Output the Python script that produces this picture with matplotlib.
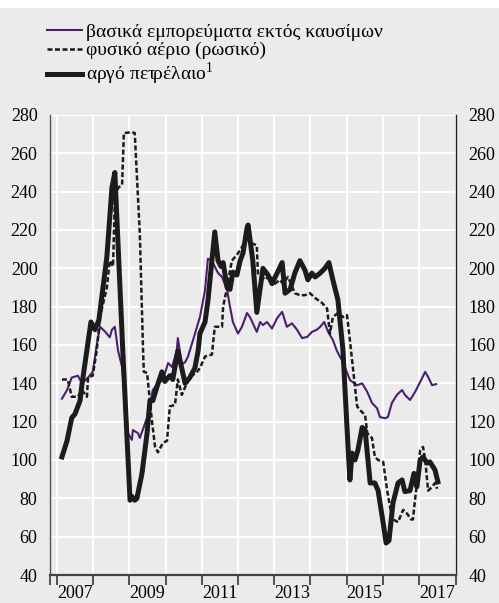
import matplotlib
matplotlib.use("Agg")
import matplotlib.pyplot as plt
from matplotlib.patches import Rectangle
from matplotlib.ticker import FixedLocator, NullFormatter

# non-fuel commodities (purple)
nonfuel_t = [2007.14, 2007.28, 2007.41, 2007.58, 2007.69, 2007.86, 2007.99, 2008.10, 2008.19,
             2008.33, 2008.46, 2008.52, 2008.60, 2008.69, 2008.80, 2008.96, 2009.07, 2009.10,
             2009.24, 2009.29, 2009.49, 2009.65, 2009.79, 2009.93, 2010.07, 2010.18, 2010.31,
             2010.34, 2010.45, 2010.54, 2010.62, 2010.76, 2010.95, 2011.09, 2011.17, 2011.28,
             2011.45, 2011.56, 2011.70, 2011.78, 2011.86, 2012.00, 2012.11, 2012.25, 2012.33,
             2012.52, 2012.61, 2012.69, 2012.80, 2012.94, 2013.08, 2013.22, 2013.35, 2013.49,
             2013.63, 2013.77, 2013.91, 2014.04, 2014.18, 2014.27, 2014.38, 2014.49, 2014.62,
             2014.73, 2014.90, 2015.09, 2015.29, 2015.43, 2015.57, 2015.70, 2015.84, 2015.92,
             2016.06, 2016.14, 2016.25, 2016.39, 2016.53, 2016.61, 2016.75, 2016.89, 2017.03,
             2017.17, 2017.25, 2017.36, 2017.47]
nonfuel_v = [132, 136.5, 143, 144, 140, 143, 146, 160, 169.5,
             167, 164, 168, 169.5, 157, 148.5, 114, 110.5, 115.6,
             114, 111.5, 122, 136.5, 140, 141.7, 150.6, 148.5, 157,
             163.6, 150, 151, 154, 162.6, 174.6, 188.7, 205, 204,
             197.5, 195.5, 188.7, 180, 172, 166, 169.5, 176.7, 174.6,
             166.8, 172, 170.4, 172, 168.6, 174, 177.3, 169.5, 171.3,
             168, 163.6, 164.2, 166.8, 168, 169.5, 172, 166.8, 162.6,
             157, 151, 141.7, 139, 140, 135.5, 129.8, 127, 122.4,
             121.8, 122.4, 129.8, 134, 136.5, 134, 131.3, 135.5, 140.7,
             146, 143.3, 139, 139.6]

# natural gas, Russian (dashed)
gas_t = [2007.14, 2007.30, 2007.41, 2007.58, 2007.69, 2007.83, 2007.86, 2007.99, 2008.10,
         2008.19, 2008.38, 2008.46, 2008.55, 2008.60, 2008.69, 2008.80, 2008.85, 2009.07,
         2009.15, 2009.29, 2009.38, 2009.40, 2009.49, 2009.62, 2009.71, 2009.79, 2009.93,
         2010.04, 2010.12, 2010.26, 2010.34, 2010.45, 2010.54, 2010.67, 2010.87, 2010.95,
         2011.09, 2011.28, 2011.36, 2011.56, 2011.59, 2011.70, 2011.83, 2011.97, 2012.11,
         2012.25, 2012.39, 2012.52, 2012.55, 2012.75, 2012.88, 2013.02, 2013.16, 2013.24,
         2013.38, 2013.44, 2013.57, 2013.71, 2013.85, 2013.99, 2014.13, 2014.32, 2014.46,
         2014.54, 2014.62, 2014.76, 2014.90, 2015.01, 2015.09, 2015.29, 2015.37, 2015.51,
         2015.57, 2015.70, 2015.78, 2015.87, 2016.01, 2016.12, 2016.20, 2016.28, 2016.42,
         2016.56, 2016.67, 2016.78, 2016.83, 2016.94, 2017.03, 2017.11, 2017.17, 2017.25,
         2017.36, 2017.44, 2017.50]
gas_v = [142, 142, 133, 133, 136.5, 133, 143, 144, 157,
         174.6, 190, 204, 201, 235.6, 242, 243.5, 270.6, 271,
         270.6, 218, 157, 146, 145.5, 121, 107, 104, 109,
         110, 128, 128.7, 142, 134, 138, 143, 146, 148,
         154, 155, 169.5, 169.5, 180, 190, 204, 207, 211,
         217, 213, 212, 197.5, 194, 196.5, 192, 194, 192,
         195.5, 193, 187, 186, 186, 187, 184.5, 182, 179,
         166, 174.6, 176.7, 174.6, 175.6, 162.6, 128, 126, 123.5,
         114, 111.5, 101.6, 100, 99, 84, 75.5, 69, 67.6,
         74, 72, 69, 69, 88, 105, 106.8, 100, 84,
         86, 88, 85]

# crude oil (thick black)
oil_t = [2007.14, 2007.28, 2007.41, 2007.50, 2007.64, 2007.69, 2007.94, 2008.05, 2008.16,
         2008.38, 2008.52, 2008.60, 2008.82, 2008.93, 2009.02, 2009.07, 2009.15, 2009.21,
         2009.35, 2009.49, 2009.57, 2009.65, 2009.76, 2009.90, 2009.98, 2010.12, 2010.20,
         2010.34, 2010.54, 2010.67, 2010.81, 2010.90, 2010.95, 2011.09, 2011.17, 2011.28,
         2011.36, 2011.45, 2011.53, 2011.59, 2011.70, 2011.78, 2011.86, 2011.97, 2012.06,
         2012.14, 2012.25, 2012.28, 2012.41, 2012.52, 2012.69, 2012.83, 2012.94, 2013.08,
         2013.22, 2013.30, 2013.44, 2013.57, 2013.71, 2013.85, 2013.93, 2014.04, 2014.13,
         2014.27, 2014.40, 2014.51, 2014.62, 2014.76, 2014.90, 2015.01, 2015.09, 2015.15,
         2015.23, 2015.31, 2015.43, 2015.51, 2015.65, 2015.78, 2015.87, 2016.01, 2016.09,
         2016.17, 2016.28, 2016.42, 2016.53, 2016.61, 2016.75, 2016.86, 2016.94, 2017.03,
         2017.11, 2017.22, 2017.30, 2017.44, 2017.52]
oil_v = [101.6, 110, 122, 124, 131, 139, 172, 168, 173,
         206, 242, 250, 157, 114, 79, 81, 79, 80,
         93, 114, 131, 131, 138, 146, 141, 144, 142,
         157, 140, 143, 148, 157, 166, 172, 183, 204,
         219, 204, 201, 203, 190, 189, 198, 196.5, 204,
         208, 221, 222.6, 204, 177, 200, 196.5, 192, 197.5,
         203, 187, 189, 197.5, 204, 199, 194, 197.5, 195.5,
         197.5, 200, 203, 194, 183.5, 157, 117, 89.6, 103.6,
         100, 105, 117, 115.6, 88, 88, 84, 67, 56.7,
         58, 77.6, 88, 89.6, 83.5, 84, 93, 86, 100,
         101.6, 98.4, 99, 94.8, 88.6]

labels = ["βασικά εμπορεύματα εκτός καυσίμων", "φυσικό αέριο (ρωσικό)", "αργό πετρέλαιο$^{1}$"]
years = list(range(2007, 2018))
year_labels = ["2007", "", "2009", "", "2011", "", "2013", "", "2015", "", "2017"]
y_ticks = list(range(40, 281, 20))

BG = "#ebebeb"
PURPLE = "#4b1e6e"
INK = "#1c1c1c"

plt.rcParams["font.family"] = ["Liberation Serif", "DejaVu Serif"]
plt.rcParams["mathtext.fontset"] = "custom"
plt.rcParams["mathtext.rm"] = "Liberation Serif"

fig = plt.figure(figsize=(4.99, 6.03), dpi=100, facecolor=BG)
fig.patches.append(Rectangle((0, 1 - 8 / 603), 1, 8 / 603, transform=fig.transFigure,
                             facecolor="white", edgecolor="none", zorder=0))
ax = fig.add_axes([50 / 499, 1 - 575 / 603, 406 / 499, 460 / 603])
ax.set_facecolor(BG)

h1, = ax.plot(nonfuel_t, nonfuel_v, color=PURPLE, lw=1.5, zorder=3)
h2, = ax.plot(gas_t, gas_v, color=INK, lw=1.8, dashes=(2, 1), zorder=4)
h3, = ax.plot(oil_t, oil_v, color=INK, lw=3.6, solid_joinstyle="round", zorder=5)

x0, x1 = 2006.81, 2018.02
ax.set_xlim(x0, x1)
ax.set_ylim(40, 280)

ax.xaxis.set_major_locator(FixedLocator([x0] + years + [x1]))
ax.xaxis.set_major_formatter(NullFormatter())
ax.xaxis.set_minor_locator(FixedLocator([y + 0.5 for y in years]))
ax.set_xticklabels(year_labels, minor=True)
ax.tick_params(axis="x", which="major", direction="out", length=7, width=1.3, color="#444444")
ax.tick_params(axis="x", which="minor", length=0, pad=7, labelsize=13)

ax.set_yticks(y_ticks)
ax.tick_params(axis="y", which="both", length=0, pad=9, labelsize=13,
               left=True, right=True, labelleft=True, labelright=True)

ax.grid(True, which="major", color="white", lw=1.5)
ax.set_axisbelow(True)
ax.spines["top"].set_visible(False)
ax.spines["bottom"].set_color("#444444")
ax.spines["bottom"].set_linewidth(1.6)
ax.spines["left"].set_color("#555555")
ax.spines["left"].set_linewidth(1.0)
ax.spines["right"].set_color("#222222")
ax.spines["right"].set_linewidth(1.0)

fig.legend([h1, h2, h3], labels, loc="upper left", bbox_to_anchor=(47 / 499, 1 - 23 / 603),
           frameon=False, fontsize=14, handlelength=1.8, handletextpad=0.21,
           labelspacing=0.06, borderpad=0, borderaxespad=0)

fig.savefig("out.png", dpi=100, facecolor=BG)
